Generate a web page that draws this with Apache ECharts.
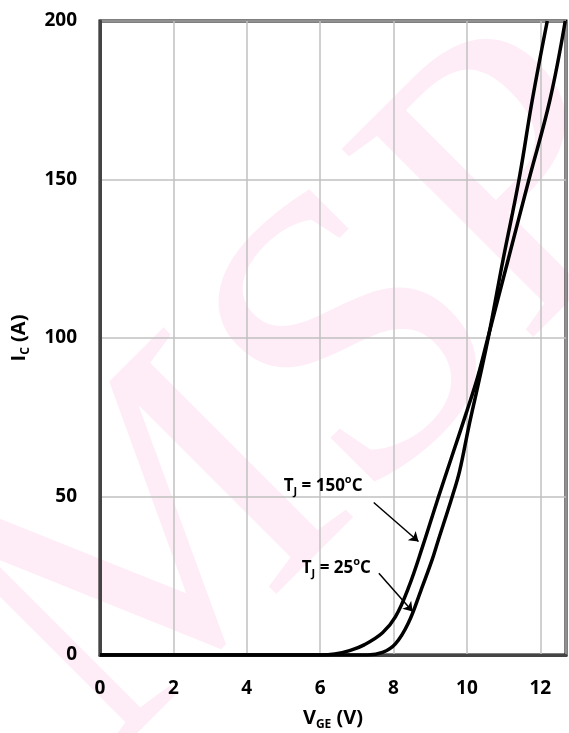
<!DOCTYPE html>
<html>
<head>
<meta charset="utf-8">
<script src="https://cdn.jsdelivr.net/npm/echarts@6/dist/echarts.min.js"></script>
<style>
html, body { margin: 0; padding: 0; background: #fff; }
#chart { width: 569px; height: 733px; }
</style>
</head>
<body>
<div id="chart"></div>
<script>
// axis ranges
var X_MIN = 0, X_MAX = 12.7, X_STEP = 2;
var Y_MIN = 0, Y_MAX = 200, Y_STEP = 50;

// Tj = 150C curve
var VGE_150 = [0, 6.0, 6.4, 6.8, 7.2, 7.7, 8.05, 8.4, 8.8, 9.2, 9.6, 10.0, 10.3, 10.57, 11.13, 11.69, 12.26, 12.68];
var IC_150  = [0, 0, 0.3, 1.4, 3.2, 7, 12, 21, 34.5, 49, 63, 77, 88, 100, 125, 150, 175, 200];

// Tj = 25C curve
var VGE_25 = [0, 7.3, 7.7, 8.05, 8.4, 8.75, 9.05, 9.2, 9.6, 9.8, 10.05, 10.3, 10.58, 10.99, 11.42, 11.78, 12.19];
var IC_25  = [0, 0, 0.8, 3.5, 10, 20.5, 30, 35.5, 50, 58, 72, 85, 100, 125, 150, 175, 200];

var FONT = '"Open Sans", "Noto Sans", sans-serif';

function pairs(xs, ys) {
    var out = [];
    for (var i = 0; i < xs.length; i++) out.push([xs[i], ys[i]]);
    return out;
}

// rich text styles for subscripts / superscripts
function richStyle(size) {
    var small = Math.round(size * 0.62);
    return {
        a:   { fontFamily: FONT, fontWeight: 'bold', fontSize: size, lineHeight: size + 6, color: '#000' },
        sub: { fontFamily: FONT, fontWeight: 'bold', fontSize: small, lineHeight: small, verticalAlign: 'bottom', color: '#000' },
        sup: { fontFamily: FONT, fontWeight: 'bold', fontSize: small, lineHeight: small, verticalAlign: 'top', color: '#000' }
    };
}

var option = {
    animation: false,
    backgroundColor: '#fff',
    graphic: [{
        type: 'text',
        x: 318,
        y: 400,
        rotation: Math.PI / 4,
        z: -10,
        silent: true,
        style: {
            text: 'MSP',
            font: '410px "Liberation Serif", "DejaVu Serif", serif',
            fill: 'rgba(236, 0, 140, 0.07)',
            align: 'center',
            verticalAlign: 'middle'
        }
    }],
    grid: {
        left: 100,
        right: 3,
        top: 21,
        bottom: 78,
        outerBoundsMode: 'none',
        containLabel: false,
        show: true,
        borderColor: '#000',
        borderWidth: 3,
        backgroundColor: 'transparent'
    },
    xAxis: {
        type: 'value',
        min: X_MIN,
        max: X_MAX,
        interval: X_STEP,
        name: '{a|V}{sub|GE}{a| (V)}',
        nameLocation: 'middle',
        nameGap: 50,
        nameTextStyle: { rich: richStyle(20) },
        axisLine: { show: true, lineStyle: { color: '#444', width: 3 } },
        axisTick: { show: false },
        axisLabel: {
            showMaxLabel: false,
            margin: 24,
            fontFamily: FONT,
            fontWeight: 'bold',
            fontSize: 19,
            color: '#000'
        },
        splitLine: { show: true, lineStyle: { color: '#c0c0c0', width: 1.5 } }
    },
    yAxis: {
        type: 'value',
        min: Y_MIN,
        max: Y_MAX,
        interval: Y_STEP,
        name: '{a|I}{sub|C}{a| (A)}',
        nameLocation: 'middle',
        nameGap: 68,
        nameTextStyle: { rich: richStyle(20) },
        axisLine: { show: true, lineStyle: { color: '#444', width: 3 } },
        axisTick: { show: false },
        axisLabel: {
            margin: 23,
            fontFamily: FONT,
            fontWeight: 'bold',
            fontSize: 19,
            color: '#000'
        },
        splitLine: { show: true, lineStyle: { color: '#c0c0c0', width: 1.5 } }
    },
    series: [
        {
            name: 'Tj = 150C',
            type: 'line',
            data: pairs(VGE_150, IC_150),
            showSymbol: false,
            smooth: 0.4,
            lineStyle: { color: '#000', width: 3.5 },
            z: 5,
            markLine: {
                silent: true,
                symbol: ['none', 'arrow'],
                symbolSize: 9,
                label: { show: false },
                lineStyle: { color: '#000', width: 1.5, type: 'solid' },
                data: [[{ coord: [7.46, 48.1] }, { coord: [8.68, 35.8] }]]
            },
            markPoint: {
                silent: true,
                symbol: 'circle',
                symbolSize: 0,
                label: {
                    show: true,
                    position: 'inside',
                    formatter: '{a|T}{sub|J}{a| = 150}{sup|o}{a|C}',
                    rich: richStyle(17)
                },
                data: [{ coord: [6.08, 53.3] }]
            }
        },
        {
            name: 'Tj = 25C',
            type: 'line',
            data: pairs(VGE_25, IC_25),
            showSymbol: false,
            smooth: 0.4,
            lineStyle: { color: '#000', width: 3.5 },
            z: 5,
            markLine: {
                silent: true,
                symbol: ['none', 'arrow'],
                symbolSize: 9,
                label: { show: false },
                lineStyle: { color: '#000', width: 1.5, type: 'solid' },
                data: [[{ coord: [7.60, 25.8] }, { coord: [8.52, 13.7] }]]
            },
            markPoint: {
                silent: true,
                symbol: 'circle',
                symbolSize: 0,
                label: {
                    show: true,
                    position: 'inside',
                    formatter: '{a|T}{sub|J}{a| = 25}{sup|o}{a|C}',
                    rich: richStyle(17)
                },
                data: [{ coord: [6.44, 27.5] }]
            }
        }
    ]
};

var myChart = echarts.init(document.getElementById('chart'));
myChart.setOption(option);
</script>
</body>
</html>
